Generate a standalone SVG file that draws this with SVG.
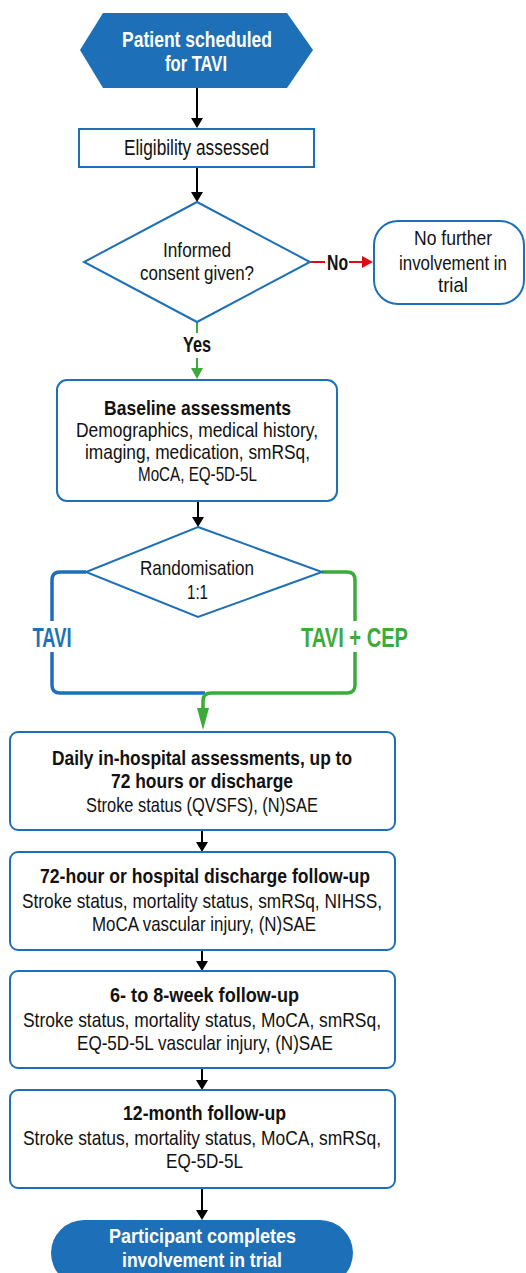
<svg xmlns="http://www.w3.org/2000/svg" width="526" height="1273" viewBox="0 0 526 1273">
<style>
.box{fill:#fff;stroke:#1d70b8;stroke-width:2}
.blue{fill:#1d70b8;stroke:none}
.t{font-family:"Liberation Sans",Arial,sans-serif;font-size:21px;fill:#111;text-anchor:middle}
.b{font-weight:bold}
.w{fill:#fff}
.k{fill:none;stroke:#000;stroke-width:2}
.r{fill:none;stroke:#e30613;stroke-width:2}
.g{fill:none;stroke:#3bab3a;stroke-width:2}
.gb{fill:none;stroke:#3bab3a;stroke-width:3.5}
.bb{fill:none;stroke:#1d70b8;stroke-width:3.5}
</style>
<defs>
<marker id="ak" markerUnits="userSpaceOnUse" markerWidth="12" markerHeight="12" refX="0" refY="6" orient="auto"><path d="M0,0 L10,6 L0,12 z" fill="#000"/></marker>
<marker id="ar" markerUnits="userSpaceOnUse" markerWidth="12" markerHeight="12" refX="0" refY="6" orient="auto"><path d="M0,0 L11,6 L0,12 z" fill="#e30613"/></marker>
<marker id="ag" markerUnits="userSpaceOnUse" markerWidth="12" markerHeight="12" refX="0" refY="6" orient="auto"><path d="M0,0 L11,6 L0,12 z" fill="#3bab3a"/></marker>
<marker id="agl" markerUnits="userSpaceOnUse" markerWidth="22" markerHeight="14" refX="0" refY="7" orient="auto"><path d="M0,1 L22,7 L0,13 z" fill="#3bab3a"/></marker>
</defs>

<g id="connectors">
<path class="k" d="M197,88 V118" marker-end="url(#ak)"/>
<path class="k" d="M197,167 V192" marker-end="url(#ak)"/>
<path class="r" d="M310,262 H325"/>
<path class="r" d="M349,262 H362" marker-end="url(#ar)"/>
<path class="g" d="M197,322 V333"/>
<path class="g" d="M197,358 V368" marker-end="url(#ag)"/>
<path class="k" d="M198,502 V517" marker-end="url(#ak)"/>
<path class="bb" d="M86,572 H60 Q52,572 52,580 V685 Q52,693 60,693 H205"/>
<path class="gb" d="M322,572 H347 Q355,572 355,580 V685 Q355,693 347,693 H211 Q203,693 203,701 V708" marker-end="url(#agl)"/>
<path class="k" d="M202,830 V842" marker-end="url(#ak)"/>
<path class="k" d="M202,950 V961" marker-end="url(#ak)"/>
<path class="k" d="M202,1068 V1080" marker-end="url(#ak)"/>
<path class="k" d="M202,1188 V1210" marker-end="url(#ak)"/>
<text class="t b" x="337.5" y="270" style="font-size:22px" textLength="21" lengthAdjust="spacingAndGlyphs">No</text>
<text class="t b" x="197" y="352" style="font-size:22px" textLength="28" lengthAdjust="spacingAndGlyphs">Yes</text>
<rect x="30" y="621" width="44" height="31" fill="#fff"/>
<text class="t b" x="52" y="647" style="font-size:27px;fill:#1d70b8" textLength="39" lengthAdjust="spacingAndGlyphs">TAVI</text>
<rect x="298" y="621" width="113" height="31" fill="#fff"/>
<text class="t b" x="354.5" y="647" style="font-size:27px;fill:#3bab3a" textLength="107" lengthAdjust="spacingAndGlyphs">TAVI + CEP</text>
</g>

<g id="start">
<polygon class="blue" points="80,50 103,13 287,13 313,50 287,88 103,88"/>
<text class="t b w" x="197" y="47" style="font-size:22.5px" textLength="150" lengthAdjust="spacingAndGlyphs">Patient scheduled</text>
<text class="t b w" x="196" y="71" style="font-size:22.5px" textLength="62" lengthAdjust="spacingAndGlyphs">for TAVI</text>
</g>

<g id="eligibility">
<rect class="box" x="79" y="129" width="235" height="38"/>
<text class="t" x="196.5" y="155" style="font-size:22px" textLength="145" lengthAdjust="spacingAndGlyphs">Eligibility assessed</text>
</g>

<g id="consent">
<polygon class="box" points="197,202 310,262 197,322 84,262"/>
<text class="t" x="197" y="257" textLength="68" lengthAdjust="spacingAndGlyphs">Informed</text>
<text class="t" x="197" y="280" textLength="114" lengthAdjust="spacingAndGlyphs">consent given?</text>
</g>

<g id="no-further">
<rect class="box" x="374" y="221" width="150" height="83" rx="24"/>
<text class="t" x="453" y="245" textLength="78" lengthAdjust="spacingAndGlyphs">No further</text>
<text class="t" x="453" y="270" textLength="108" lengthAdjust="spacingAndGlyphs">involvement in</text>
<text class="t" x="453" y="292" textLength="30" lengthAdjust="spacingAndGlyphs">trial</text>
</g>

<g id="baseline">
<rect class="box" x="57" y="380" width="280" height="121" rx="10"/>
<text class="t b" x="197.5" y="415" textLength="187" lengthAdjust="spacingAndGlyphs">Baseline assessments</text>
<text class="t" x="197" y="437" textLength="242" lengthAdjust="spacingAndGlyphs">Demographics, medical history,</text>
<text class="t" x="197.5" y="459" textLength="225" lengthAdjust="spacingAndGlyphs">imaging, medication, smRSq,</text>
<text class="t" x="197.5" y="481" textLength="119" lengthAdjust="spacingAndGlyphs">MoCA, EQ-5D-5L</text>
</g>

<g id="randomisation">
<polygon class="box" points="198,527 322,572 198,617 86,572"/>
<text class="t" x="197" y="575" textLength="114" lengthAdjust="spacingAndGlyphs">Randomisation</text>
<text class="t" x="197.5" y="599" textLength="21" lengthAdjust="spacingAndGlyphs">1:1</text>
</g>

<g id="daily">
<rect class="box" x="10" y="732" width="385" height="98" rx="8"/>
<text class="t b" x="202" y="765" textLength="300" lengthAdjust="spacingAndGlyphs">Daily in-hospital assessments, up to</text>
<text class="t b" x="202" y="788" textLength="182" lengthAdjust="spacingAndGlyphs">72 hours or discharge</text>
<text class="t" x="202" y="812" textLength="232" lengthAdjust="spacingAndGlyphs">Stroke status (QVSFS), (N)SAE</text>
</g>

<g id="discharge">
<rect class="box" x="10" y="852" width="385" height="98" rx="8"/>
<text class="t b" x="205" y="883" textLength="330" lengthAdjust="spacingAndGlyphs">72-hour or hospital discharge follow-up</text>
<text class="t" x="202" y="908" textLength="360" lengthAdjust="spacingAndGlyphs">Stroke status, mortality status, smRSq, NIHSS,</text>
<text class="t" x="204" y="931" textLength="224" lengthAdjust="spacingAndGlyphs">MoCA vascular injury, (N)SAE</text>
</g>

<g id="week6-8">
<rect class="box" x="10" y="971" width="385" height="97" rx="8"/>
<text class="t b" x="204.5" y="1002" textLength="189" lengthAdjust="spacingAndGlyphs">6- to 8-week follow-up</text>
<text class="t" x="202" y="1027" textLength="358" lengthAdjust="spacingAndGlyphs">Stroke status, mortality status, MoCA, smRSq,</text>
<text class="t" x="205" y="1050" textLength="256" lengthAdjust="spacingAndGlyphs">EQ-5D-5L vascular injury, (N)SAE</text>
</g>

<g id="month12">
<rect class="box" x="10" y="1090" width="385" height="98" rx="8"/>
<text class="t b" x="204.5" y="1120" textLength="163" lengthAdjust="spacingAndGlyphs">12-month follow-up</text>
<text class="t" x="202" y="1145" textLength="358" lengthAdjust="spacingAndGlyphs">Stroke status, mortality status, MoCA, smRSq,</text>
<text class="t" x="204.5" y="1168" textLength="77" lengthAdjust="spacingAndGlyphs">EQ-5D-5L</text>
</g>

<g id="end">
<rect class="blue" x="51" y="1220" width="302" height="66" rx="33"/>
<text class="t b w" x="202.5" y="1243" textLength="187" lengthAdjust="spacingAndGlyphs">Participant completes</text>
<text class="t b w" x="202" y="1267" textLength="160" lengthAdjust="spacingAndGlyphs">involvement in trial</text>
</g>
</svg>
